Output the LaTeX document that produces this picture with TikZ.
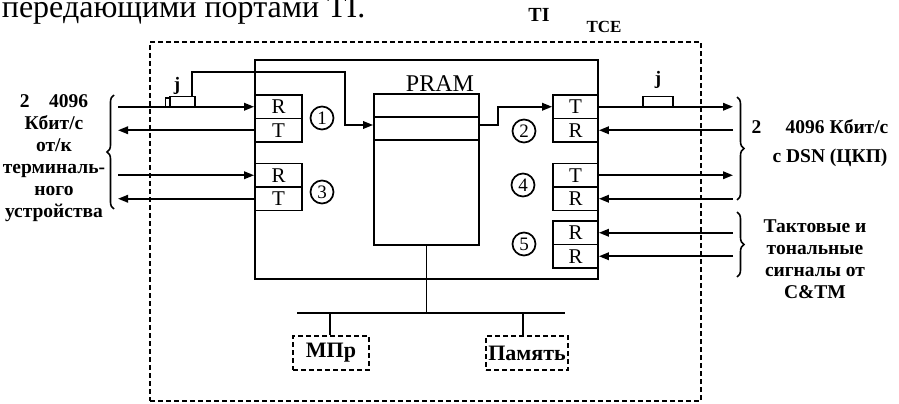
\documentclass[tikz,border=0pt]{standalone}
\usepackage{fontspec}
\setmainfont{Liberation Serif}
\usetikzlibrary{arrows.meta,decorations.pathreplacing}
\begin{document}
\begin{tikzpicture}[x=1pt,y=-1pt,line width=1.8pt,
  arr/.style={-{Triangle[length=10pt,width=7.5pt]}},
  lport/.style={draw,rectangle,minimum width=47pt,minimum height=23.5pt,inner sep=0pt,font=\fontsize{21}{21}\selectfont},
  rport/.style={draw,rectangle,minimum width=45pt,minimum height=23.5pt,inner sep=0pt,font=\fontsize{21}{21}\selectfont},
  num/.style={draw,circle,minimum size=23pt,inner sep=0pt,line width=1.7pt,font=\fontsize{19}{19}\selectfont},
  dbox/.style={draw,dash pattern=on 5pt off 3pt},
  jbox/.style={draw,rectangle,minimum width=25pt,minimum height=10pt,inner sep=0pt,line width=1.4pt},
  lbl/.style={font=\fontsize{19.5}{22}\selectfont\bfseries,align=center,inner sep=0pt},
  brc/.style={decorate,decoration={brace,amplitude=7pt},line width=1.6pt}]
\useasboundingbox (0,0) rectangle (899,404);
% caption (cut at top)
\node[anchor=base west,inner sep=0pt,font=\fontsize{32}{32}\selectfont] (capt) at (1,18) {передающими портами TI.};
\node[font=\fontsize{20}{20}\selectfont\bfseries,inner sep=0pt] (tiL) at (539,15) {TI};
\node[font=\fontsize{17}{17}\selectfont\bfseries,inner sep=0pt] (tceL) at (604,27) {TCE};
% outer dashed box
\node[dbox,minimum width=551pt,minimum height=359pt] (tce) at (425.5,221.5) {};
% TI box
\node[draw,minimum width=343pt,minimum height=219pt] (ti) at (426.5,169.5) {};
% PRAM
\node[draw,minimum width=105pt,minimum height=151pt] (pram) at (426.5,169.5) {};
\node[draw,minimum width=105pt,minimum height=23pt] (slot) at (426.5,128.5) {};
\node[font=\fontsize{24}{24}\selectfont,inner sep=0pt] (pramL) at (440,84) {PRAM};
% left ports
\node[lport] (p1R) at (278.5,106.75) {R};
\node[lport] (p1T) at (278.5,130.25) {T};
\node[lport] (p3R) at (278.5,175.25) {R};
\node[lport] (p3T) at (278.5,198.75) {T};
\node[num] (n1) at (322,118) {1};
\node[num] (n3) at (322,192) {3};
% right ports
\node[rport] (p2T) at (575.5,106.75) {T};
\node[rport] (p2R) at (575.5,130.25) {R};
\node[rport] (p4T) at (575.5,175.25) {T};
\node[rport] (p4R) at (575.5,198.75) {R};
\node[rport] (p5a) at (575.5,232.75) {R};
\node[rport] (p5b) at (575.5,256.25) {R};
\node[num] (n2) at (524,131) {2};
\node[num] (n4) at (523,185) {4};
\node[num] (n5) at (524,244) {5};
% edge coordinates
\coordinate (lx) at (118,0);
\coordinate (rx) at (733,0);
% left side signals
\draw[arr] (p1R.west -| lx) -- (p1R.west);
\draw[arr] (p1T.west) -- (p1T.west -| lx);
\draw[arr] (p3R.west -| lx) -- (p3R.west);
\draw[arr] (p3T.west) -- (p3T.west -| lx);
% right side signals
\draw[arr] (p2T.east) -- (p2T.east -| rx);
\draw[arr] (p2R.east -| rx) -- (p2R.east);
\draw[arr] (p4T.east) -- (p4T.east -| rx);
\draw[arr] (p4R.east -| rx) -- (p4R.east);
\draw[arr] (p5a.east -| rx) -- (p5a.east);
\draw[arr] (p5b.east -| rx) -- (p5b.east);
% j elements
\node[jbox] (jL) at (182.5,101.75) {};
\draw[line width=1.4pt] ([xshift=-4pt]jL.south west) |- ([yshift=-2pt]jL.north west);
\node[font=\fontsize{19}{19}\selectfont\bfseries,inner sep=0pt] (jLt) at (177,86) {j};
\node[jbox,minimum width=30pt] (jR) at (658,101.75) {};
\node[font=\fontsize{19}{19}\selectfont\bfseries,inner sep=0pt] (jRt) at (658,80) {j};
% j -> PRAM
\coordinate (jtap) at (192,96.75);
\coordinate (bend) at (345,72);
\draw[arr] (jtap) |- (bend) |- ([yshift=3.5pt]slot.west);
% PRAM -> port 2
\draw[arr] ([yshift=3.5pt]slot.east) -- ++(18,0) |- (p2T.west);
% bus
\coordinate (busL) at (297,313);
\coordinate (busR) at (565,313);
\draw (busL) -- (busR);
\draw (pram.south) -- (pram.south |- busL);
\node[dbox,minimum width=76pt,minimum height=34pt,font=\fontsize{22}{22}\selectfont\bfseries,inner sep=0pt] (mpr) at (331,353) {МПр};
\node[dbox,minimum width=82pt,minimum height=34pt,font=\fontsize{22}{22}\selectfont\bfseries,inner sep=0pt] (mem) at (527,353) {Память};
\draw (mpr.north -| 330,0) -- (busL -| 330,0);
\draw (mem.north -| 523,0) -- (busL -| 523,0);
% braces
\draw[brc] (114,209) -- (114,95);
\draw[brc] (737,97) -- (737,200);
\draw[brc] (737,212) -- (737,277);
% labels
\node[lbl] (lblL) at (54,158) {2\quad 4096\\Кбит/с\\от/к\\терминаль-\\ного\\устройства};
\node[lbl] (lblR1) at (820,127) {2\quad\ 4096 Кбит/с};
\node[lbl] (lblR2) at (830,158) {с DSN (ЦКП)};
\node[lbl] (lblR3) at (815,259) {Тактовые и\\тональные\\сигналы от\\C\&TM};
\end{tikzpicture}
\end{document}
